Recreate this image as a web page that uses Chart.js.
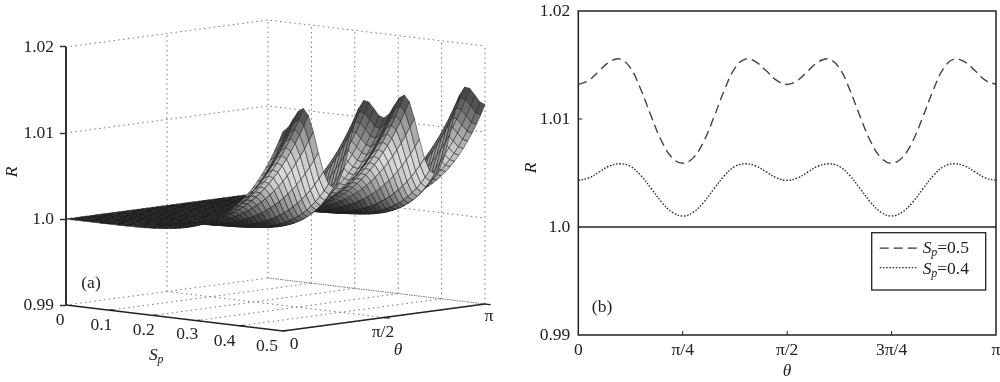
<!DOCTYPE html>
<html><head><meta charset="utf-8">
<script src="https://cdn.jsdelivr.net/npm/chart.js@4/dist/chart.umd.min.js"></script>
<style>
html,body{margin:0;padding:0;background:#fff;width:1000px;height:382px;overflow:hidden}
.p{position:absolute;top:0;width:500px;height:382px}
</style></head><body>
<div class="p" style="left:0"><canvas id="a" width="500" height="382"></canvas></div>
<div class="p" style="left:500px"><canvas id="b" width="500" height="382"></canvas></div>
<script>
// Sp grid and theta grid (theta as a fraction of pi)
const spGrid=[0,.02,.04,.06,.08,.1,.12,.14,.16,.18,.2,.22,.24,.25,.26,.27,.28,.29,.3,.31,.32,.33,.34,.35,.36,.37,.38,.39,.4,.41,.42,.43,.44,.45,.46,.47,.48,.49,.5];
const thetaGrid=[0,.025,.05,.075,.1,.125,.15,.175,.2,.225,.25,.275,.3,.325,.35,.375,.4,.425,.45,.475,.5,.525,.55,.575,.6,.625,.65,.675,.7,.725,.75,.775,.8,.825,.85,.875,.9,.925,.95,.975,1];
// (R-1)*1e5, one row per Sp, one column per theta
const excess=[
[0,0,0,0,0,0,0,0,0,0,0,0,0,0,0,0,0,0,0,0,0,0,0,0,0,0,0,0,0,0,0,0,0,0,0,0,0,0,0,0,0],
[0,0,0,0,0,0,0,0,0,0,0,0,0,0,0,0,0,0,0,0,0,0,0,0,0,0,0,0,0,0,0,0,0,0,0,0,0,0,0,0,0],
[0,0,0,0,0,0,0,0,0,0,0,0,0,0,0,0,0,0,0,0,0,0,0,0,0,0,0,0,0,0,0,0,0,0,0,0,0,0,0,0,0],
[0,0,0,0,0,0,0,0,0,0,0,0,0,0,0,0,0,0,0,0,0,0,0,0,0,0,0,0,0,0,0,0,0,0,0,0,0,0,0,0,0],
[0,0,0,0,0,0,0,0,0,0,0,0,0,0,0,0,0,0,0,0,0,0,0,0,0,0,0,0,0,0,0,0,0,0,0,0,0,0,0,0,0],
[1,1,1,1,1,1,1,1,0,0,0,0,0,1,1,1,1,1,1,1,1,1,1,1,1,1,1,1,0,0,0,0,0,1,1,1,1,1,1,1,1],
[1,2,2,3,3,3,3,1,0,0,0,0,0,1,3,3,3,3,2,2,1,2,2,3,3,3,3,1,0,0,0,0,0,1,3,3,3,3,2,2,1],
[3,3,4,6,6,6,5,3,1,0,0,0,1,3,5,6,6,6,4,3,3,3,4,6,6,6,5,3,1,0,0,0,1,3,5,6,6,6,4,3,3],
[5,6,8,10,11,11,9,5,2,0,0,0,2,5,9,11,11,10,8,6,5,6,8,10,11,11,9,5,2,0,0,0,2,5,9,11,11,10,8,6,5],
[8,10,13,16,18,18,14,8,3,1,0,1,3,8,14,18,18,16,13,10,8,10,13,16,18,18,14,8,3,1,0,1,3,8,14,18,18,16,13,10,8],
[14,15,20,26,28,28,22,13,5,1,0,1,5,13,22,28,28,26,20,15,14,15,20,26,28,28,22,13,5,1,0,1,5,13,22,28,28,26,20,15,14],
[22,25,32,39,42,42,34,21,9,2,1,2,9,21,34,42,42,39,32,25,22,25,32,39,42,42,34,21,9,2,1,2,9,21,34,42,42,39,32,25,22],
[34,38,47,58,62,61,50,31,14,4,2,4,14,31,50,61,62,58,47,38,34,38,47,58,62,61,50,31,14,4,2,4,14,31,50,61,62,58,47,38,34],
[41,46,57,69,74,73,60,38,17,5,2,5,17,38,60,73,74,69,57,46,41,46,57,69,74,73,60,38,17,5,2,5,17,38,60,73,74,69,57,46,41],
[50,55,68,83,89,87,71,46,21,7,3,7,21,46,71,87,89,83,68,55,50,55,68,83,89,87,71,46,21,7,3,7,21,46,71,87,89,83,68,55,50],
[60,66,81,98,105,102,84,55,26,9,4,9,26,55,84,102,105,98,81,66,60,66,81,98,105,102,84,55,26,9,4,9,26,55,84,102,105,98,81,66,60],
[73,79,96,115,123,120,99,65,31,11,6,11,31,65,99,120,123,115,96,79,73,79,96,115,123,120,99,65,31,11,6,11,31,65,99,120,123,115,96,79,73],
[86,94,113,134,143,139,115,77,38,14,8,14,38,77,115,139,143,134,113,94,86,94,113,134,143,139,115,77,38,14,8,14,38,77,115,139,143,134,113,94,86],
[102,111,133,157,166,162,134,91,46,18,11,18,46,91,134,162,166,157,133,111,102,111,133,157,166,162,134,91,46,18,11,18,46,91,134,162,166,157,133,111,102],
[120,130,155,181,191,186,154,106,55,23,14,23,55,106,154,186,191,181,155,130,120,130,155,181,191,186,154,106,55,23,14,23,55,106,154,186,191,181,155,130,120],
[142,152,180,209,220,214,178,123,66,29,18,29,66,123,178,214,220,209,180,152,142,152,180,209,220,214,178,123,66,29,18,29,66,123,178,214,220,209,180,152,142],
[165,177,207,239,251,244,204,142,78,36,22,36,78,142,204,244,251,239,207,177,165,177,207,239,251,244,204,142,78,36,22,36,78,142,204,244,251,239,207,177,165],
[192,205,239,273,287,278,233,164,92,44,28,44,92,164,233,278,287,273,239,205,192,205,239,273,287,278,233,164,92,44,28,44,92,164,233,278,287,273,239,205,192],
[221,236,273,310,325,315,264,188,108,53,35,53,108,188,264,315,325,310,273,236,221,236,273,310,325,315,264,188,108,53,35,53,108,188,264,315,325,310,273,236,221],
[255,271,312,353,369,356,299,215,127,65,44,65,127,215,299,356,369,353,312,271,255,271,312,353,369,356,299,215,127,65,44,65,127,215,299,356,369,353,312,271,255],
[292,309,354,398,415,400,337,244,147,79,55,79,147,244,337,400,415,398,354,309,292,309,354,398,415,400,337,244,147,79,55,79,147,244,337,400,415,398,354,309,292],
[334,353,401,449,467,449,380,278,171,95,68,95,171,278,380,449,467,449,401,353,334,353,401,449,467,449,380,278,171,95,68,95,171,278,380,449,467,449,401,353,334],
[380,400,452,504,523,502,425,314,197,114,83,114,197,314,425,502,523,504,452,400,380,400,452,504,523,502,425,314,197,114,83,114,197,314,425,502,523,504,452,400,380],
[432,454,510,565,585,561,476,354,228,136,102,136,228,354,476,561,585,565,510,454,432,454,510,565,585,561,476,354,228,136,102,136,228,354,476,561,585,565,510,454,432],
[488,512,572,630,651,624,530,397,261,161,124,161,261,397,530,624,651,630,572,512,488,512,572,630,651,624,530,397,261,161,124,161,261,397,530,624,651,630,572,512,488],
[551,577,641,702,724,693,590,446,299,191,150,191,299,446,590,693,724,702,641,577,551,577,641,702,724,693,590,446,299,191,150,191,299,446,590,693,724,702,641,577,551],
[619,646,714,779,802,766,654,498,341,224,180,224,341,498,654,766,802,779,714,646,619,646,714,779,802,766,654,498,341,224,180,224,341,498,654,766,802,779,714,646,619],
[696,724,796,864,888,847,724,556,388,263,216,263,388,556,724,847,888,864,796,724,696,724,796,864,888,847,724,556,388,263,216,263,388,556,724,847,888,864,796,724,696],
[778,808,883,954,979,932,799,618,439,307,257,307,439,618,799,932,979,954,883,808,778,808,883,954,979,932,799,618,439,307,257,307,439,618,799,932,979,954,883,808,778],
[869,901,980,1054,1079,1026,881,687,497,359,306,359,497,687,881,1026,1079,1054,980,901,869,901,980,1054,1079,1026,881,687,497,359,306,359,497,687,881,1026,1079,1054,980,901,869],
[967,1000,1082,1159,1184,1125,967,760,559,416,362,416,559,760,967,1125,1184,1159,1082,1000,967,1000,1082,1159,1184,1125,967,760,559,416,362,416,559,760,967,1125,1184,1159,1082,1000,967],
[1075,1109,1195,1274,1300,1233,1062,840,629,482,428,482,629,840,1062,1233,1300,1274,1195,1109,1075,1109,1195,1274,1300,1233,1062,840,629,482,428,482,629,840,1062,1233,1300,1274,1195,1109,1075],
[1191,1227,1315,1396,1422,1347,1161,926,705,555,503,555,705,926,1161,1347,1422,1396,1315,1227,1191,1227,1315,1396,1422,1347,1161,926,705,555,503,555,705,926,1161,1347,1422,1396,1315,1227,1191],
[1320,1357,1446,1529,1555,1472,1270,1020,790,640,590,640,790,1020,1270,1472,1555,1529,1446,1357,1320,1357,1446,1529,1555,1472,1270,1020,790,640,590,640,790,1020,1270,1472,1555,1529,1446,1357,1320]
];
const rTicks=[0.99,1.0,1.01,1.02];
const rTickLabels=['0.99','1.0','1.01','1.02'];
const spTicks=[0,.1,.2,.3,.4,.5];
const spTickLabels=['0','0.1','0.2','0.3','0.4','0.5'];
const thetaTicks3d=[0,.5,1];
const thetaTickLabels3d=['0','π/2','π'];
const thetaTicks2d=[0,.25,.5,.75,1];
const thetaTickLabels2d=['0','π/4','π/2','3π/4','π'];
const legendLabels=['=0.5','=0.4'];

const SERIF="'Liberation Serif','Times New Roman',serif";
const FS=17.5, INK='#222';
const K=.03/258;                        // R units per projected unit
const sNorm=sp=>sp/.5;
const P=(sp,t,R)=>{const s=sNorm(sp);return {x:217*s+202*t, y:R-(26*s-27*t)*K};};
const R=(i,j)=>1+excess[i][j]/1e5;

function shade(i,j){
  const ds=2*(spGrid[i+1]-spGrid[i]);
  const zs=((excess[i+1][j]+excess[i+1][j+1]-excess[i][j]-excess[i][j+1])/2)/3000/ds;
  const zt=((excess[i][j+1]+excess[i+1][j+1]-excess[i][j]-excess[i+1][j])/2)/3000/.025;
  const sig=zs<1.25?.55:.6;
  const side=1-.2*Math.max(-1,Math.min(1,zt/1.5));
  const ramp=Math.min(1,zs/.5);
  const b=.105+.62*side*ramp*Math.exp(-((zs-1.25)**2)/(2*sig*sig));
  const g=Math.round(255*Math.min(.9,b));
  return `rgb(${g},${g},${g})`;
}
const ds3=[];
for(let i=spGrid.length-2;i>=0;i--){
  for(let j=0;j<thetaGrid.length-1;j++){
    const a=spGrid[i],c=spGrid[i+1],t0=thetaGrid[j],t1=thetaGrid[j+1];
    ds3.push({data:[P(a,t0,R(i,j)),P(c,t0,R(i+1,j)),P(c,t1,R(i+1,j+1)),P(a,t1,R(i,j+1)),P(a,t0,R(i,j))],
      fill:'shape',backgroundColor:shade(i,j),borderColor:'rgba(35,35,35,.7)',borderWidth:.8,tension:.001,
      pointRadius:0,clip:false,borderJoinStyle:'round'});
  }
}
function lineDs(pts,color,w,dash){return {data:pts,borderColor:color,borderWidth:w,borderDash:dash||[],fill:false,pointRadius:0,clip:false,tension:0.001};}
const DOT='#777',DD=[1.5,3.3];
// front axes
ds3.push(lineDs([P(0,0,1.02),P(0,0,.99)],'#333',2));
ds3.push(lineDs([P(0,0,.99),P(.5,0,.99),P(.5,1,.99)],'#222',1.6));
for(const v of spTicks.slice(1)) ds3.push(lineDs([P(v,0,.99),P(v,.02,.99)],'#222',1.3));
for(const v of thetaTicks3d.slice(1)) ds3.push(lineDs([P(.5,v,.99),P(.513,v,.99)],'#222',1.3));
// dotted walls and floor
for(const r of rTicks){
  ds3.push(lineDs([P(0,0,r),P(0,1,r),P(.5,1,r)],DOT,1,DD));
}
for(const v of spTicks){
  if(v>0) ds3.push(lineDs([P(v,0,.99),P(v,1,.99)],DOT,1,DD));
  ds3.push(lineDs([P(v,1,.99),P(v,1,1.02)],DOT,1,DD));
}
ds3.push(lineDs([P(0,.5,.99),P(.5,.5,.99)],DOT,1,DD));
ds3.push(lineDs([P(0,.5,.99),P(0,.5,1.02)],DOT,1,DD));
ds3.push(lineDs([P(0,1,.99),P(.5,1,.99)],DOT,1,DD));

function text(ctx,s,x,y,o={}){
  ctx.save();ctx.font=`${o.italic?'italic ':''}${o.size||FS}px ${SERIF}`;ctx.fillStyle=INK;
  ctx.textAlign=o.align||'center';ctx.textBaseline=o.base||'middle';
  ctx.translate(x,y);if(o.rot)ctx.rotate(o.rot);ctx.fillText(s,0,0);ctx.restore();
}
function spLabel(ctx,x,y,suffix){
  text(ctx,'S',x,y,{italic:true,align:'left'});
  text(ctx,'p',x+8.6,y+4.5,{italic:true,size:12,align:'left'});
  if(suffix) text(ctx,suffix,x+14.5,y,{align:'left'});
}
const labelsA={id:'labelsA',afterDraw(c){
  const ctx=c.ctx,sx=c.scales.x,sy=c.scales.y;
  const at=p=>[sx.getPixelForValue(p.x),sy.getPixelForValue(p.y)];
  const spOff=[[-6,15],[-8,15],[-9,15],[-9,14],[-15,16],[-16,15]];
  spTicks.forEach((v,i)=>{const [x,y]=at(P(v,0,.99));text(ctx,spTickLabels[i],x+spOff[i][0],y+spOff[i][1]);});
  const thOff=[[11,13],[-1,15],[4,12]];
  thetaTicks3d.forEach((v,i)=>{const [x,y]=at(P(.5,v,.99));text(ctx,thetaTickLabels3d[i],x+thOff[i][0],y+thOff[i][1]);});
  text(ctx,'θ',398,350,{italic:true});
  spLabel(ctx,149,355);
  text(ctx,'R',12,172,{italic:true,rot:-Math.PI/2});
  text(ctx,'(a)',91,283);
}};
const noPad=s=>{s.paddingTop=0;s.paddingBottom=0;s.paddingLeft=0;s.paddingRight=0;};
new Chart(document.getElementById('a'),{
  type:'line',data:{datasets:ds3},plugins:[labelsA],
  options:{responsive:false,animation:false,events:[],devicePixelRatio:1,
    layout:{padding:0},
    plugins:{legend:{display:false},tooltip:{enabled:false}},
    scales:{
      x:{type:'linear',display:false,min:0,max:434},
      y:{type:'linear',min:.99-77*K,max:1.02+47*K,
        afterBuildTicks:s=>{s.ticks=rTicks.map(v=>({value:v}));},
        afterFit:s=>{s.width=66;noPad(s);},
        border:{display:false},
        grid:{drawOnChartArea:false,drawTicks:true,tickLength:6,tickColor:'#333',tickWidth:1.5},
        ticks:{autoSkip:false,padding:6,color:INK,font:{family:SERIF,size:FS},
          callback:v=>rTickLabels[rTicks.findIndex(r=>Math.abs(r-v)<1e-9)]}
      }
    }
  }
});

const curve=row=>thetaGrid.map((t,j)=>({x:t,y:1+excess[row][j]/1e5}));
const row05=spGrid.indexOf(.5),row04=spGrid.indexOf(.4);
const DASH=[9,5],DOTS=[1.6,1.6];
const frameB={id:'frameB',
  afterDatasetsDraw(c){
    const ctx=c.ctx,a=c.chartArea,sx=c.scales.x,sy=c.scales.y;
    ctx.save();ctx.strokeStyle='#222';ctx.lineWidth=1.5;
    ctx.strokeRect(a.left,a.top,a.right-a.left,a.bottom-a.top);
    ctx.lineWidth=1;ctx.beginPath();
    thetaTicks2d.slice(1,-1).forEach(v=>{const x=sx.getPixelForValue(v);ctx.moveTo(x,a.bottom);ctx.lineTo(x,a.bottom-4);});
    [1.01].forEach(v=>{const y=sy.getPixelForValue(v);ctx.moveTo(a.left,y);ctx.lineTo(a.left+4,y);});
    ctx.stroke();
    // legend box
    const lx=371.7,ly=232.7,lw=114,lh=57.3;
    ctx.fillStyle='#fff';ctx.fillRect(lx,ly,lw,lh);ctx.lineWidth=1.3;ctx.strokeRect(lx,ly,lw,lh);
    ctx.lineWidth=1.3;ctx.strokeStyle='#333';
    ctx.setLineDash(DASH);ctx.beginPath();ctx.moveTo(lx+8,ly+15.5);ctx.lineTo(lx+45,ly+15.5);ctx.stroke();
    ctx.setLineDash(DOTS);ctx.beginPath();ctx.moveTo(lx+8,ly+35);ctx.lineTo(lx+45,ly+35);ctx.stroke();
    ctx.restore();
    spLabel(ctx,lx+51,ly+15.5,legendLabels[0]);
    spLabel(ctx,lx+51,ly+36.5,legendLabels[1]);
    text(ctx,'(b)',102,307);
    text(ctx,'R',31,168,{italic:true,rot:-Math.PI/2});
  }};
new Chart(document.getElementById('b'),{
  type:'line',
  data:{datasets:[
    {label:'Sp=0.5',data:curve(row05),borderColor:'#444',borderWidth:1.4,borderDash:DASH,pointRadius:0,fill:false,tension:.4},
    {label:'Sp=0.4',data:curve(row04),borderColor:'#333',borderWidth:1.4,borderDash:DOTS,pointRadius:0,fill:false,tension:.4},
    {label:'R=1',data:[{x:0,y:1},{x:1,y:1}],borderColor:'#222',borderWidth:1.5,pointRadius:0,fill:false}
  ]},
  plugins:[frameB],
  options:{responsive:false,animation:false,events:[],devicePixelRatio:1,
    layout:{padding:{top:11,right:4,left:0,bottom:0}},
    plugins:{legend:{display:false},tooltip:{enabled:false}},
    scales:{
      x:{type:'linear',min:0,max:1,
        afterBuildTicks:s=>{s.ticks=thetaTicks2d.map(v=>({value:v}));},
        afterFit:s=>{s.height=47;noPad(s);},
        border:{display:false},grid:{display:false,tickLength:0},
        title:{display:true,text:'θ',color:INK,padding:{top:2,bottom:0},font:{family:SERIF,size:FS,style:'italic'}},
        ticks:{autoSkip:false,maxRotation:0,padding:5,color:INK,font:{family:SERIF,size:FS},
          callback:v=>thetaTickLabels2d[thetaTicks2d.indexOf(v)]}
      },
      y:{type:'linear',min:.99,max:1.02,
        afterBuildTicks:s=>{s.ticks=rTicks.map(v=>({value:v}));},
        afterFit:s=>{s.width=78.3;noPad(s);},
        border:{display:false},grid:{display:false,tickLength:0},
        ticks:{autoSkip:false,padding:8,color:INK,font:{family:SERIF,size:FS},
          callback:v=>rTickLabels[rTicks.findIndex(r=>Math.abs(r-v)<1e-9)]}
      }
    }
  }
});
</script>
</body></html>
